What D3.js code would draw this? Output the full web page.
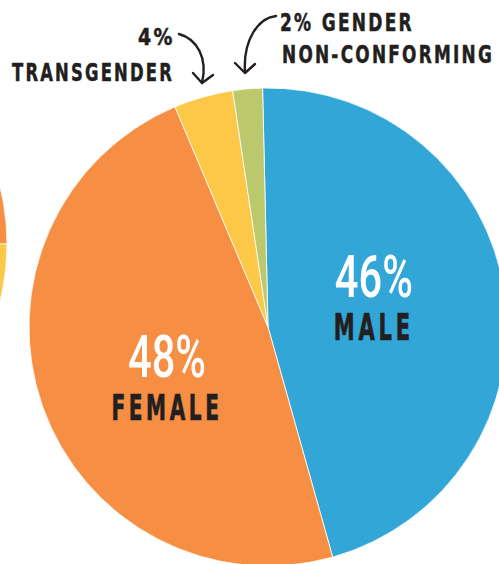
<!DOCTYPE html>
<html>
<head>
<meta charset="utf-8">
<script src="https://cdn.jsdelivr.net/npm/d3@7"></script>
<style>
  html, body { margin: 0; padding: 0; background: #fff; }
  svg { display: block; }
</style>
</head>
<body>
<svg id="chart" width="499" height="564"></svg>
<script>
// main pie
var categories = ["Male", "Female", "Transgender", "Gender non-conforming"];
var values = [46, 48, 4, 2];
var pctLabels = ["46%", "48%", "4%", "2%"];
var nameLabels = ["MALE", "FEMALE", "TRANSGENDER", "GENDER NON-CONFORMING"];
var colors = ["#33a6d8", "#f68e44", "#fdc748", "#bbc86c"];

// neighbouring pie, only its edge shows at the left
var sideCategories = ["Other", "Female", "Transgender"];
var sideValues = [75, 25, 15];
var sideColors = ["#33a6d8", "#f68e44", "#fdc748"];

var svg = d3.select("#chart");
var ink = "#231f20";

var R = 239;
var cx = 268, cy = 327;
var deg = Math.PI / 180;

//////////////////////////////////////////////////////////////////////////////////////////
// PIES //////////////////////////////////////////////////////////////////////////////////
//////////////////////////////////////////////////////////////////////////////////////////

var pie = d3.pie().sort(null).value(function(d) { return d; })
  .startAngle(-1.3 * deg).endAngle(358.7 * deg);
var arc = d3.arc().innerRadius(0).outerRadius(R);

var arcs = pie(values);

svg.append("g")
  .attr("transform", "translate(" + cx + "," + cy + ")")
  .selectAll("path")
  .data(arcs)
  .enter().append("path")
    .attr("d", arc)
    .attr("fill", function(d, i) { return colors[i]; })
    .attr("stroke", "#fff")
    .attr("stroke-width", 0.8);

// rotate the side pie so its orange/yellow split lands at 90 degrees
var sideArcs = d3.pie().sort(null).value(function(d) { return d; })(sideValues);
var split = (sideValues[0] + sideValues[1]) / d3.sum(sideValues) * 2 * Math.PI;
sideArcs.forEach(function(a) {
  a.startAngle += Math.PI / 2 - split;
  a.endAngle += Math.PI / 2 - split;
});

svg.append("g")
  .attr("transform", "translate(" + (-232) + "," + 244 + ")")
  .selectAll("path")
  .data(sideArcs)
  .enter().append("path")
    .attr("d", arc)
    .attr("fill", function(d, i) { return sideColors[i]; })
    .attr("stroke", "#fff")
    .attr("stroke-width", 0.8);

//////////////////////////////////////////////////////////////////////////////////////////
// LABELS INSIDE /////////////////////////////////////////////////////////////////////////
//////////////////////////////////////////////////////////////////////////////////////////

var labelArc = d3.arc().innerRadius(107).outerRadius(107);
var nudge = [0, 29];

[0, 1].forEach(function(i) {
  var c = labelArc.centroid(arcs[i]);
  var x = cx + c[0], y = cy + c[1] + nudge[i];
  var g = svg.append("g").attr("transform", "translate(" + x + "," + y + ")");

  g.append("text")
    .attr("y", -14)
    .attr("text-anchor", "middle")
    .attr("fill", "#fff")
    .style("font-family", "Roboto, 'Open Sans', sans-serif")
    .style("font-weight", 500)
    .style("font-size", "60px")
    .attr("textLength", 78)
    .attr("lengthAdjust", "spacingAndGlyphs")
    .text(pctLabels[i]);

  g.append("text")
    .attr("y", 29)
    .attr("text-anchor", "middle")
    .attr("fill", ink)
    .attr("stroke", ink)
    .attr("stroke-width", 0.7)
    .style("font-family", "'DejaVu Sans Condensed', 'DejaVu Sans', sans-serif")
    .style("font-weight", "bold")
    .style("font-size", i == 0 ? "37px" : "35px")
    .style("letter-spacing", "0.16em")
    .attr("textLength", i == 0 ? 80 : 111)
    .attr("lengthAdjust", "spacingAndGlyphs")
    .text(nameLabels[i]);
});

//////////////////////////////////////////////////////////////////////////////////////////
// CALLOUTS //////////////////////////////////////////////////////////////////////////////
//////////////////////////////////////////////////////////////////////////////////////////

function callout(txt, x, y, len, size) {
  svg.append("text")
    .attr("x", x).attr("y", y)
    .attr("fill", ink)
    .attr("stroke", ink)
    .attr("stroke-width", 0.5)
    .style("font-family", "'DejaVu Sans Condensed', 'DejaVu Sans', sans-serif")
    .style("font-weight", "bold")
    .style("font-size", size + "px")
    .style("letter-spacing", "0.12em")
    .attr("textLength", len)
    .attr("lengthAdjust", "spacingAndGlyphs")
    .text(txt);
}

callout(pctLabels[2], 138, 45, 37, 23);
callout(nameLabels[2], 12, 81, 162, 25);
callout(pctLabels[3] + " GENDER", 280, 31, 134, 25);
callout("NON-CONFORMING", 282, 63, 212, 25);

function drawArrow(d, head) {
  svg.append("path")
    .attr("d", d)
    .attr("fill", "none")
    .attr("stroke", ink)
    .attr("stroke-width", 2.4)
    .attr("stroke-linecap", "round");
  svg.append("path")
    .attr("d", head)
    .attr("fill", "none")
    .attr("stroke", ink)
    .attr("stroke-width", 2.4)
    .attr("stroke-linecap", "round")
    .attr("stroke-linejoin", "round");
}

drawArrow("M179,34 C197,39 208,58 202,83", "M193,73 L202,83 L213,75");
drawArrow("M276,16 C258,18 243,40 245,72", "M235,63 L245,73 L255,64");
</script>
</body>
</html>
